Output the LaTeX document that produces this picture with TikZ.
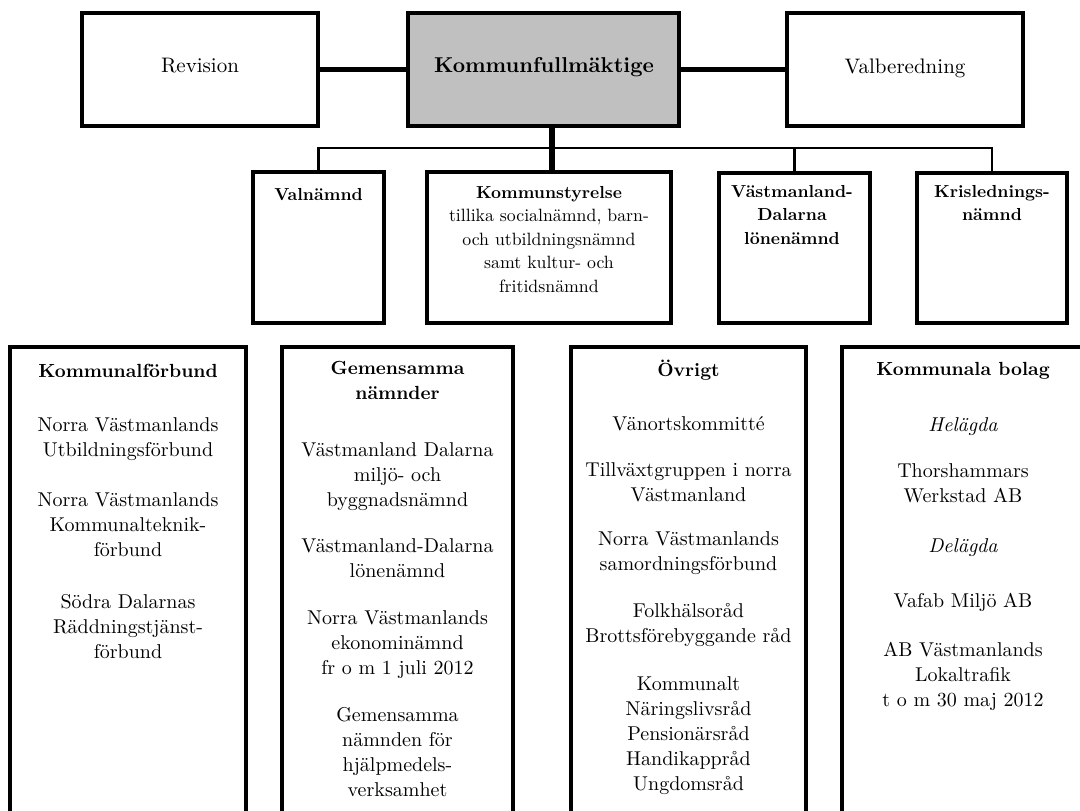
\documentclass[tikz,border=0pt]{standalone}
\usepackage{fontspec}
\setmainfont{lmroman10-regular.otf}[BoldFont=lmroman10-bold.otf, ItalicFont=lmroman10-italic.otf, BoldItalicFont=lmroman10-bolditalic.otf]
\definecolor{kfgray}{HTML}{C0C0C0}
\newcommand\myTop{\fontsize{21}{25}\selectfont}
\newcommand\myTopB{\bfseries\fontsize{21.5}{25}\selectfont}
\newcommand\mySmB{\bfseries\fontsize{17.4}{23.5}\selectfont}
\newcommand\mySmR{\fontsize{17.8}{23.5}\selectfont}
\newcommand\myBody{\fontsize{20}{25}\selectfont}
\newcommand\myTitle{\bfseries\fontsize{19}{25}\selectfont}
\begin{document}
\begin{tikzpicture}[x=1pt,y=-1pt,
  box/.style={draw=black, fill=white, line width=3.2pt, inner sep=0pt, rectangle},
  thickline/.style={line width=5.8pt},
  thinline/.style={line width=2.6pt},
  toplabel/.style={anchor=base, inner sep=0pt, font=\myTop},
  topbold/.style={anchor=base, inner sep=0pt, font=\myTopB},
  smbold/.style={anchor=base, inner sep=0pt, font=\mySmB},
  smpara/.style={anchor=north, inner sep=0pt, align=center, font=\mySmR, yshift=16.45pt, execute at begin node=\strut},
  smboldpara/.style={anchor=north, inner sep=0pt, align=center, font=\mySmB, yshift=16.45pt, execute at begin node=\strut},
  title/.style={anchor=base, inner sep=0pt, font=\myTitle},
  titlepara/.style={anchor=north, inner sep=0pt, align=center, font=\myTitle, yshift=17.5pt, execute at begin node=\strut},
  body/.style={anchor=north, inner sep=0pt, align=center, font=\myBody, yshift=17.5pt, execute at begin node=\strut},
  bodyline/.style={anchor=base, inner sep=0pt, font=\myBody},
  italline/.style={anchor=base, inner sep=0pt, font=\myBody\itshape}
]
\path[use as bounding box] (0,0) rectangle (1080,811);
\clip (0,0) rectangle (1080,811);
\fill[white] (0,0) rectangle (1080,811);

% ---- top row
\node[box, minimum width=236pt, minimum height=113pt] (rev) at (200,69.5) {};
\node[box, fill=kfgray, minimum width=271pt, minimum height=113pt] (kf) at (543.5,69.5) {};
\node[box, minimum width=236pt, minimum height=113pt] (val) at (905,69.5) {};
\node[toplabel] (revt) at (200,72) {Revision};
\node[topbold] (kft) at (544,72) {Kommunfullmäktige};
\node[toplabel] (valt) at (905,73) {Valberedning};

% ---- second row
\node[box, minimum width=131pt, minimum height=151pt] (valn) at (318.5,247.5) {};
\node[box, minimum width=244pt, minimum height=151pt] (ks) at (549,247.5) {};
\node[box, minimum width=151pt, minimum height=150pt] (vdl) at (794.5,248) {};
\node[box, minimum width=150pt, minimum height=150pt] (kris) at (992,248) {};
\node[smbold] (valnt) at (318.5,200) {Valnämnd};
\node[smpara] (kst) at (549,202.5) {{\bfseries\fontsize{17.4}{23.5}\selectfont Kommunstyrelse}\\tillika socialnämnd, barn-\\och utbildningsnämnd\\samt kultur- och\\fritidsnämnd};
\node[smboldpara] (vdlt) at (792,201.5) {Västmanland-\\Dalarna\\lönenämnd};
\node[smboldpara] (krist) at (992,201.5) {Krislednings-\\nämnd};

% ---- connectors
\coordinate (bus) at (0,148);
\draw[thickline] (rev.east) -- (kf.west);
\draw[thickline] (kf.east) -- (val.west);
\draw[thickline] ([xshift=3pt]kf.south -| ks.north) -- ([xshift=3pt]ks.north);
\draw[thinline] (valn.north) |- (bus -| kris.north) -- (kris.north);
\draw[thinline] (bus -| vdl.north) -- (vdl.north);

% ---- bottom row
\node[box, minimum width=236pt, minimum height=483pt] (b1) at (128,588.5) {};
\node[box, minimum width=231pt, minimum height=483pt] (b2) at (397.5,588.5) {};
\node[box, minimum width=235pt, minimum height=483pt] (b3) at (688.5,588.5) {};
\node[box, minimum width=244pt, minimum height=483pt] (b4) at (964,588.5) {};

% box 1
\node[title] (b1t) at (128,377) {Kommunalförbund};
\node[body] (b1a) at (128,435) {Norra Västmanlands\\Utbildningsförbund};
\node[body] (b1b) at (128,510) {Norra Västmanlands\\Kommunalteknik-\\förbund};
\node[body] (b1c) at (128,612) {Södra Dalarnas\\Räddningstjänst-\\förbund};

% box 2
\node[titlepara] (b2t) at (397.5,379) {Gemensamma\\nämnder};
\node[body] (b2a) at (397.5,460) {Västmanland Dalarna\\miljö- och\\byggnadsnämnd};
\node[body] (b2b) at (397.5,556) {Västmanland-Dalarna\\lönenämnd};
\node[body] (b2c) at (397.5,628) {Norra Västmanlands\\ekonominämnd\\fr o m 1 juli 2012};
\node[body] (b2d) at (397.5,725) {Gemensamma\\nämnden för\\hjälpmedels-\\verksamhet};

% box 3
\node[title] (b3t) at (688.5,376) {Övrigt};
\node[bodyline] (b3a) at (688.5,430) {Vänortskommitté};
\node[body] (b3b) at (688.5,480) {Tillväxtgruppen i norra\\Västmanland};
\node[body] (b3c) at (688.5,549) {Norra Västmanlands\\samordningsförbund};
\node[body] (b3d) at (688.5,621) {Folkhälsoråd\\Brottsförebyggande råd};
\node[body] (b3e) at (688.5,694) {Kommunalt\\Näringslivsråd\\Pensionärsråd\\Handikappråd\\Ungdomsråd};

% box 4
\node[title] (b4t) at (963,375) {Kommunala bolag};
\node[italline] (b4a) at (963,431) {Helägda};
\node[body] (b4b) at (963,481) {Thorshammars\\Werkstad AB};
\node[italline] (b4c) at (963,552) {Delägda};
\node[bodyline] (b4d) at (963,607) {Vafab Miljö AB};
\node[body] (b4e) at (963,659) {AB Västmanlands\\Lokaltrafik\\t o m 30 maj 2012};
\end{tikzpicture}
\end{document}
